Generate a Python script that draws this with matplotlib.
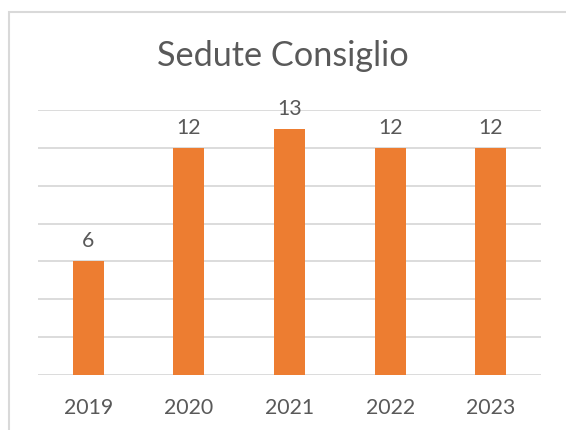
import matplotlib.pyplot as plt
from matplotlib.patches import Rectangle

anni = ['2019', '2020', '2021', '2022', '2023']
sedute = [6, 12, 13, 12, 12]

W, H = 566, 431
plt.rcParams['font.family'] = ['Lato', 'DejaVu Sans']
testo = '#595959'

fig = plt.figure(figsize=(W / 100, H / 100), dpi=100)
# chart border (cut off on right and bottom like the screenshot)
fig.add_artist(Rectangle((9 / W, -0.1), 1.2, 1 - 13 / H + 0.1,
                         transform=fig.transFigure, fill=False,
                         edgecolor='#D9D9D9', linewidth=1.5))

ax = fig.add_axes([38 / W, (H - 376) / H, (541 - 38) / W, (376 - 111) / H])
x = range(len(anni))
bars = ax.bar(x, sedute, width=0.31, color='#ED7D31', zorder=3)
ax.set_xlim(-0.5, len(anni) - 0.5)
ax.set_ylim(0, 14)
ax.set_yticks(range(0, 15, 2))
ax.yaxis.grid(True, color='#D9D9D9', linewidth=1.3, zorder=0)
ax.tick_params(axis='y', left=False, labelleft=False)
ax.tick_params(axis='x', length=0, pad=16, labelsize=15.3, labelcolor=testo)
ax.set_xticks(list(x))
ax.set_xticklabels(anni)
for s in ax.spines.values():
    s.set_visible(False)

for b, v in zip(bars, sedute):
    ax.annotate(str(v), (b.get_x() + b.get_width() / 2, v),
                textcoords='offset points', xytext=(0, 8),
                ha='center', va='bottom', fontsize=15.3, color=testo)

fig.text(0.5, (H - 56) / H, 'Sedute Consiglio', ha='center', va='center',
         fontsize=24.7, color=testo)

fig.savefig('out.png', dpi=100)
